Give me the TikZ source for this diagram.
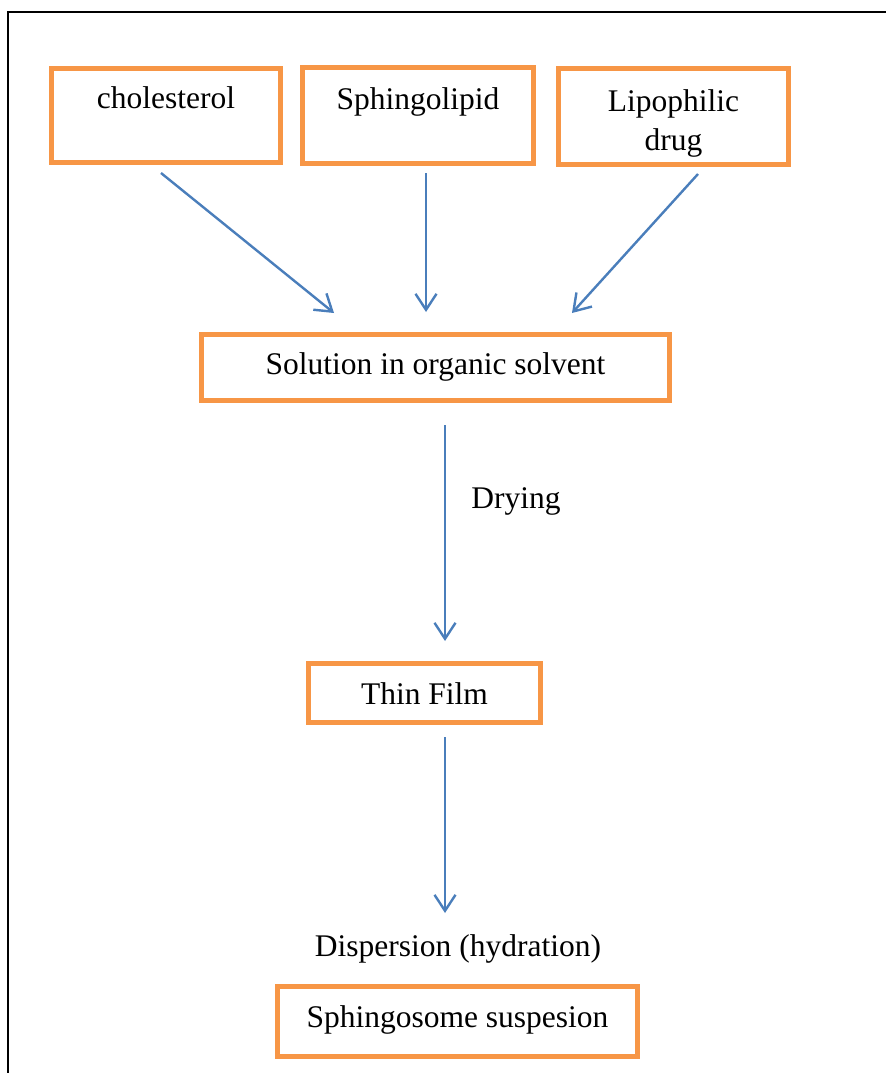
\documentclass[tikz,border=0pt]{standalone}
\usepackage{fontspec}
\setmainfont{Liberation Serif}
\usetikzlibrary{arrows.meta}

\definecolor{boxorange}{HTML}{F79646}
\definecolor{flowblue}{HTML}{4A7EBB}

\begin{document}
\begin{tikzpicture}[x = 1pt, y = -1pt, >={Straight Barb[length=16pt, width=21pt]}]
    \tikzset{
        box/.style={draw=boxorange, line width=5.5pt, inner sep=0pt, outer sep=0pt,
            anchor=north, align=center, font=\fontsize{31.5}{39}\selectfont},
        flow/.style={->, draw=flowblue, line width=2.4pt},
        steplabel/.style={anchor=base, inner sep=0pt, font=\fontsize{31.5}{39}\selectfont}
    }
    \useasboundingbox (0,0) rectangle (886,1073);
    % page frame
    \draw [line width=2.6pt] (8,1073) -- (8,12) -- (886,12);

    \node [box, minimum width=229pt, text height=40pt, text depth=54pt] (chol) at (166,68.5) {cholesterol};
    \node [box, minimum width=231pt, text height=41.5pt, text depth=54.5pt] (sphl) at (418,67.5) {Sphingolipid};
    \node [box, minimum width=230pt, text height=81.5pt, text depth=14.5pt] (drug) at (673.5,68.5) {Lipophilic\\drug};
    \node [box, minimum width=468pt, text height=39.5pt, text depth=26.5pt] (sol) at (435.5,334.5) {Solution in organic solvent};
    \node [box, minimum width=232pt, text height=40.5pt, text depth=18.5pt] (film) at (424.5,663.5) {Thin Film};
    \node [box, minimum width=360pt, text height=40.5pt, text depth=29.5pt] (susp) at (457.5,986.5) {Sphingosome suspesion};

    \node [steplabel] (drying) at (516,508) {Drying};
    \node [steplabel] (disp) at (458,956) {Dispersion (hydration)};

    \coordinate (chol-out) at (161,173);
    \coordinate (sphl-out) at (426,173);
    \coordinate (drug-out) at (698,174);
    \coordinate (sol-in1) at (334,313);
    \coordinate (sol-in2) at (426,312);
    \coordinate (sol-in3) at (572,313);
    \coordinate (sol-out) at (445,425);
    \coordinate (film-in) at (445,641);
    \coordinate (film-out) at (445,737);
    \coordinate (disp-in) at (445,913);

    \draw [flow] (chol-out) -- (sol-in1);
    \draw [flow] (sphl-out) -- (sol-in2);
    \draw [flow] (drug-out) -- (sol-in3);
    \draw [flow] (sol-out) -- (film-in);
    \draw [flow] (film-out) -- (disp-in);
\end{tikzpicture}
\end{document}
